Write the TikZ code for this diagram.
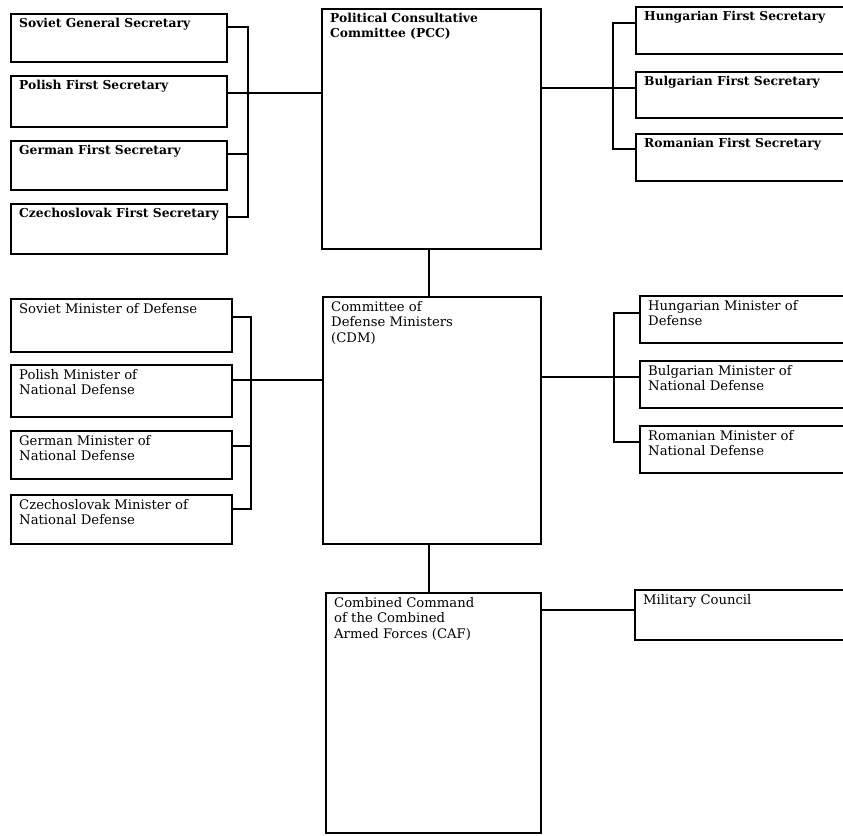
\documentclass[tikz,border=0pt]{standalone}
\usepackage{fontspec}
\setmainfont{DejaVu Serif}

\begin{document}
\begin{tikzpicture}[x=1pt, y=-1pt,
  box/.style={draw, line width=1.6pt, anchor=north west, inner sep=0pt},
  lbl/.style={anchor=north west, align=left, inner sep=0pt, xshift=9pt, yshift=-5pt, font=\fontsize{13.2}{15.5}\selectfont},
  blbl/.style={lbl, font=\fontsize{12.3}{15}\selectfont\bfseries},
  link/.style={line width=1.3pt}]
\clip (0,0) rectangle (843,835); % page size

% top row: secretaries
\node[box, minimum width=219pt, minimum height=240pt] (pcc) at (321,8) {};
\node[blbl] (pcct) at (pcc.north west) {Political Consultative\\Committee (PCC)};
\node[box, minimum width=216pt, minimum height=48pt] (sgs) at (10,13) {};
\node[blbl] (sgst) at (sgs.north west) {Soviet General Secretary};
\node[box, minimum width=216pt, minimum height=51pt] (pfs) at (10,75) {};
\node[blbl] (pfst) at (pfs.north west) {Polish First Secretary};
\node[box, minimum width=216pt, minimum height=49pt] (gfs) at (10,140) {};
\node[blbl] (gfst) at (gfs.north west) {German First Secretary};
\node[box, minimum width=216pt, minimum height=50pt] (cfs) at (10,203) {};
\node[blbl] (cfst) at (cfs.north west) {Czechoslovak First Secretary};
\node[box, minimum width=230pt, minimum height=47pt] (hfs) at (635,6) {};
\node[blbl] (hfst) at (hfs.north west) {Hungarian First Secretary};
\node[box, minimum width=230pt, minimum height=46pt] (bfs) at (635,71) {};
\node[blbl] (bfst) at (bfs.north west) {Bulgarian First Secretary};
\node[box, minimum width=230pt, minimum height=47pt] (rfs) at (635,133) {};
\node[blbl] (rfst) at (rfs.north west) {Romanian First Secretary};

% middle row: defense ministers
\node[box, minimum width=218pt, minimum height=247pt] (cdm) at (322,296) {};
\node[lbl] (cdmt) at (cdm.north west) {Committee of\\Defense Ministers\\(CDM)};
\node[box, minimum width=221pt, minimum height=53pt] (smd) at (10,298) {};
\node[lbl] (smdt) at (smd.north west) {Soviet Minister of Defense};
\node[box, minimum width=221pt, minimum height=52pt] (pmd) at (10,364) {};
\node[lbl] (pmdt) at (pmd.north west) {Polish Minister of\\National Defense};
\node[box, minimum width=221pt, minimum height=48pt] (gmd) at (10,430) {};
\node[lbl] (gmdt) at (gmd.north west) {German Minister of\\National Defense};
\node[box, minimum width=221pt, minimum height=49pt] (cmd) at (10,494) {};
\node[lbl] (cmdt) at (cmd.north west) {Czechoslovak Minister of\\National Defense};
\node[box, minimum width=230pt, minimum height=47pt] (hmd) at (639,295) {};
\node[lbl] (hmdt) at (hmd.north west) {Hungarian Minister of\\Defense};
\node[box, minimum width=230pt, minimum height=47pt] (bmd) at (639,360) {};
\node[lbl] (bmdt) at (bmd.north west) {Bulgarian Minister of\\National Defense};
\node[box, minimum width=230pt, minimum height=47pt] (rmd) at (639,425) {};
\node[lbl] (rmdt) at (rmd.north west) {Romanian Minister of\\National Defense};

% bottom row: command
\node[box, minimum width=215pt, minimum height=240pt] (caf) at (325,592) {};
\node[lbl] (caft) at (caf.north west) {Combined Command\\of the Combined\\Armed Forces (CAF)};
\node[box, minimum width=230pt, minimum height=50pt] (mc) at (634,589) {};
\node[lbl] (mct) at (mc.north west) {Military Council};

% brackets
\coordinate (lsec) at (248,93);
\coordinate (rsec) at (613,88);
\coordinate (lmin) at (251,380);
\coordinate (rmin) at (614,377);

\draw[link] ([yshift=-14pt]sgs.north east) -| (lsec) |- ([yshift=-14pt]cfs.north east);
\draw[link] ([yshift=-14pt]gfs.north east) -| (lsec);
\draw[link] (pfs.east |- lsec) -- (pcc.west |- lsec);
\draw[link] ([yshift=-17pt]hfs.north west) -| (rsec) |- ([yshift=-16pt]rfs.north west);
\draw[link] (pcc.east |- rsec) -- (bfs.west |- rsec);

\draw[link] ([yshift=-19pt]smd.north east) -| (lmin) |- ([yshift=-15pt]cmd.north east);
\draw[link] ([yshift=-16pt]gmd.north east) -| (lmin);
\draw[link] (pmd.east |- lmin) -- (cdm.west |- lmin);
\draw[link] ([yshift=-18pt]hmd.north west) -| (rmin) |- ([yshift=-17pt]rmd.north west);
\draw[link] (cdm.east |- rmin) -- (bmd.west |- rmin);

\draw[link] (pcc.south -| 429,0) -- (cdm.north -| 429,0);
\draw[link] (cdm.south -| 429,0) -- (caf.north -| 429,0);
\draw[link] ([yshift=-18pt]caf.north east) -- ([yshift=-18pt]caf.north east -| mc.west);

\end{tikzpicture}
\end{document}
